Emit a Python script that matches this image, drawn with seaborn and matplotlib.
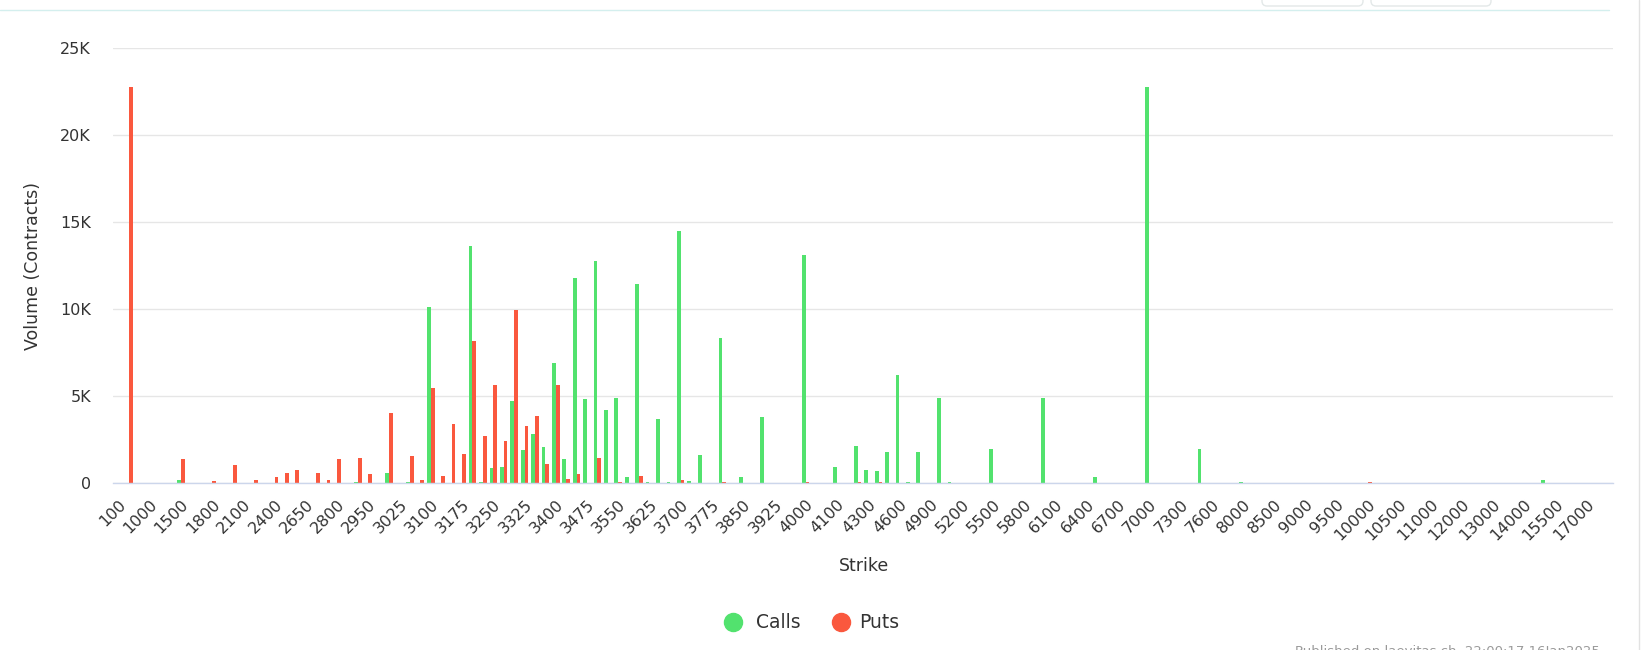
import matplotlib
matplotlib.use("Agg")
import matplotlib.pyplot as plt
import seaborn as sns
import pandas as pd
from matplotlib.lines import Line2D
from matplotlib.patches import FancyBboxPatch
from matplotlib.transforms import IdentityTransform

# ---------------- data (volume in thousands of contracts) ----------------
strikes = [
    100, 500, 800, 1000, 1200, 1400, 1500, 1600, 1700, 1800, 1900, 2000,
    2100, 2200, 2300, 2400, 2500, 2600, 2650, 2700, 2750, 2800, 2850, 2900,
    2950, 2975, 3000, 3025, 3050, 3075, 3100, 3125, 3150, 3175, 3200, 3225,
    3250, 3275, 3300, 3325, 3350, 3375, 3400, 3425, 3450, 3475, 3500, 3525,
    3550, 3575, 3600, 3625, 3650, 3675, 3700, 3725, 3750, 3775, 3800, 3825,
    3850, 3875, 3900, 3925, 3950, 3975, 4000, 4025, 4050, 4100, 4200, 4250,
    4300, 4400, 4500, 4600, 4700, 4800, 4900, 5000, 5100, 5200, 5300, 5400,
    5500, 5600, 5700, 5800, 5900, 6000, 6100, 6200, 6300, 6400, 6500, 6600,
    6700, 6800, 6900, 7000, 7100, 7200, 7300, 7400, 7500, 7600, 7700, 7800,
    8000, 8200, 8400, 8500, 8600, 8800, 9000, 9200, 9400, 9500, 9600, 9800,
    10000, 10200, 10400, 10500, 10600, 10800, 11000, 11200, 11500, 12000, 12500, 12800,
    13000, 13500, 13800, 14000, 14500, 15000, 15500, 16000, 16500, 17000, 18000, 20000,
]

calls_k = [
    0, 0, 0, 0, 0, 0, 0.15, 0, 0, 0, 0, 0,
    0, 0, 0, 0, 0, 0, 0, 0, 0, 0, 0, 0.05,
    0, 0, 0.58, 0, 0.05, 0, 10.13, 0, 0, 0, 13.63, 0.05,
    0.83, 0.92, 4.7, 1.88, 2.8, 2.04, 6.87, 1.35, 11.76, 4.82, 12.78, 4.19,
    4.9, 0.31, 11.46, 0.03, 3.67, 0.03, 14.5, 0.12, 1.6, 0, 8.3, 0,
    0.31, 0, 3.77, 0, 0, 0, 13.1, 0, 0, 0.92, 0, 2.13,
    0.73, 0.65, 1.79, 6.2, 0.03, 1.79, 0, 4.9, 0.03, 0, 0, 0,
    1.96, 0, 0, 0, 0, 4.9, 0, 0, 0, 0, 0.31, 0,
    0, 0, 0, 22.8, 0, 0, 0, 0, 1.96, 0, 0, 0,
    0.05, 0, 0, 0, 0, 0, 0, 0, 0, 0, 0, 0,
    0, 0, 0, 0, 0, 0, 0, 0, 0, 0, 0, 0,
    0, 0, 0, 0, 0, 0.15, 0, 0, 0, 0, 0, 0,
]

puts_k = [
    0, 22.8, 0, 0, 0, 0, 1.35, 0, 0, 0.08, 0, 1.02,
    0, 0.15, 0, 0.31, 0.58, 0.75, 0, 0.58, 0.15, 1.35, 0, 1.44,
    0.5, 0, 4.0, 0, 1.52, 0.15, 5.43, 0.4, 3.35, 1.63, 8.14, 2.7,
    5.6, 2.41, 9.95, 3.26, 3.86, 1.1, 5.6, 0.21, 0.48, 0, 1.44, 0,
    0.03, 0, 0.4, 0, 0, 0, 0.14, 0, 0, 0, 0.05, 0,
    0, 0, 0, 0, 0, 0, 0.05, 0, 0, 0, 0, 0.05,
    0, 0.05, 0, 0, 0, 0, 0, 0, 0, 0, 0, 0,
    0, 0, 0, 0, 0, 0, 0, 0, 0, 0, 0, 0,
    0, 0, 0, 0, 0, 0, 0, 0, 0, 0, 0, 0,
    0, 0, 0, 0, 0, 0, 0, 0, 0, 0, 0, 0,
    0.05, 0, 0, 0, 0, 0, 0, 0, 0, 0, 0, 0,
    0, 0, 0, 0, 0, 0, 0, 0, 0, 0, 0, 0,
]

series_names = ["Calls", "Puts"]
y_ticks = [0, 5000, 10000, 15000, 20000, 25000]
y_tick_labels = ["0", "5K", "10K", "15K", "20K", "25K"]
label_step = 3

GREEN = "#52E26E"
RED = "#FA583E"
TEXT = "#333333"

# ---------------- figure ----------------
sns.set_theme(style="white")
plt.rcParams['font.family'] = ['DejaVu Sans']

W, H = 1642, 650
fig = plt.figure(figsize=(W / 100, H / 100), dpi=100)
fig.patch.set_facecolor("white")
ax = fig.add_axes([113.3 / W, 1 - 482.7 / H, 1499.2 / W, 434.4 / H])

labels = [str(s) for s in strikes]
df = pd.DataFrame({
    "Strike": labels * 2,
    "Volume": [v * 1000 for v in calls_k] + [v * 1000 for v in puts_k],
    "Type": [series_names[0]] * len(labels) + [series_names[1]] * len(labels),
})

sns.barplot(data=df, x="Strike", y="Volume", hue="Type", order=labels,
            hue_order=series_names, palette={"Calls": GREEN, "Puts": RED},
            width=0.72, saturation=1, legend=False, ax=ax, errorbar=None,
            linewidth=0, gap=0)

ax.set_xlim(-0.5, len(labels) - 0.5)
ax.set_ylim(0, 25000)
ax.set_yticks(y_ticks)
ax.set_yticklabels(y_tick_labels)
ax.set_xticks(range(0, len(labels), label_step))
ax.set_xticklabels(labels[::label_step])
ax.tick_params(axis="y", length=0, pad=16, labelsize=11.5, labelcolor=TEXT)
ax.tick_params(axis="x", length=0, pad=10, labelsize=11.5, labelcolor=TEXT)
for t in ax.get_xticklabels():
    t.set_rotation(45)
    t.set_ha("right")
    t.set_va("top")
    t.set_rotation_mode("anchor")

ax.set_axisbelow(True)
ax.yaxis.grid(True, color="#e6e6e6", linewidth=1)
ax.xaxis.grid(False)
for s in ["top", "right", "left"]:
    ax.spines[s].set_visible(False)
ax.spines["bottom"].set_color("#ccd6eb")
ax.spines["bottom"].set_linewidth(1)
ax.set_xlabel("")
ax.set_ylabel("")

fig.text(33 / W, 1 - 266 / H, "Volume (Contracts)", rotation=90, ha="center",
         va="center", fontsize=12.5, color=TEXT)
fig.text(864 / W, 1 - 566 / H, "Strike", ha="center", va="center",
         fontsize=12.5, color=TEXT)

# legend, placed item by item
legend_items = [(733, 756, GREEN, series_names[0]), (841, 859, RED, series_names[1])]
for cx, tx, col, name in legend_items:
    fig.add_artist(Line2D([cx / W], [1 - 622 / H], marker="o", linestyle="",
                          markersize=13, markerfacecolor=col, markeredgecolor=col,
                          transform=fig.transFigure))
    fig.text(tx / W, 1 - 622 / H, name, ha="left", va="center",
             fontsize=13.5, color=TEXT)

# page decorations
fig.add_artist(Line2D([0, 1609 / W], [1 - 10.3 / H] * 2, color="#d4efee", lw=1,
                      transform=fig.transFigure))
for x0, x1 in [(1262, 1363), (1371, 1491)]:
    fig.add_artist(FancyBboxPatch((x0, H - 6), x1 - x0, 30,
                                  boxstyle="round,pad=0,rounding_size=5",
                                  transform=IdentityTransform(),
                                  facecolor="white", edgecolor="#e3e8e8", lw=1))
fig.add_artist(Line2D([1638.5 / W] * 2, [0, 1], color="#e2e2e2", lw=1,
                      transform=fig.transFigure))
fig.text(1295 / W, 1 - 645 / H, "Published on laevitas.ch, 22:00:17 16Jan2025",
         ha="left", va="top", fontsize=9.5, color="#9a9a9a")

fig.savefig("out.png", dpi=100)
